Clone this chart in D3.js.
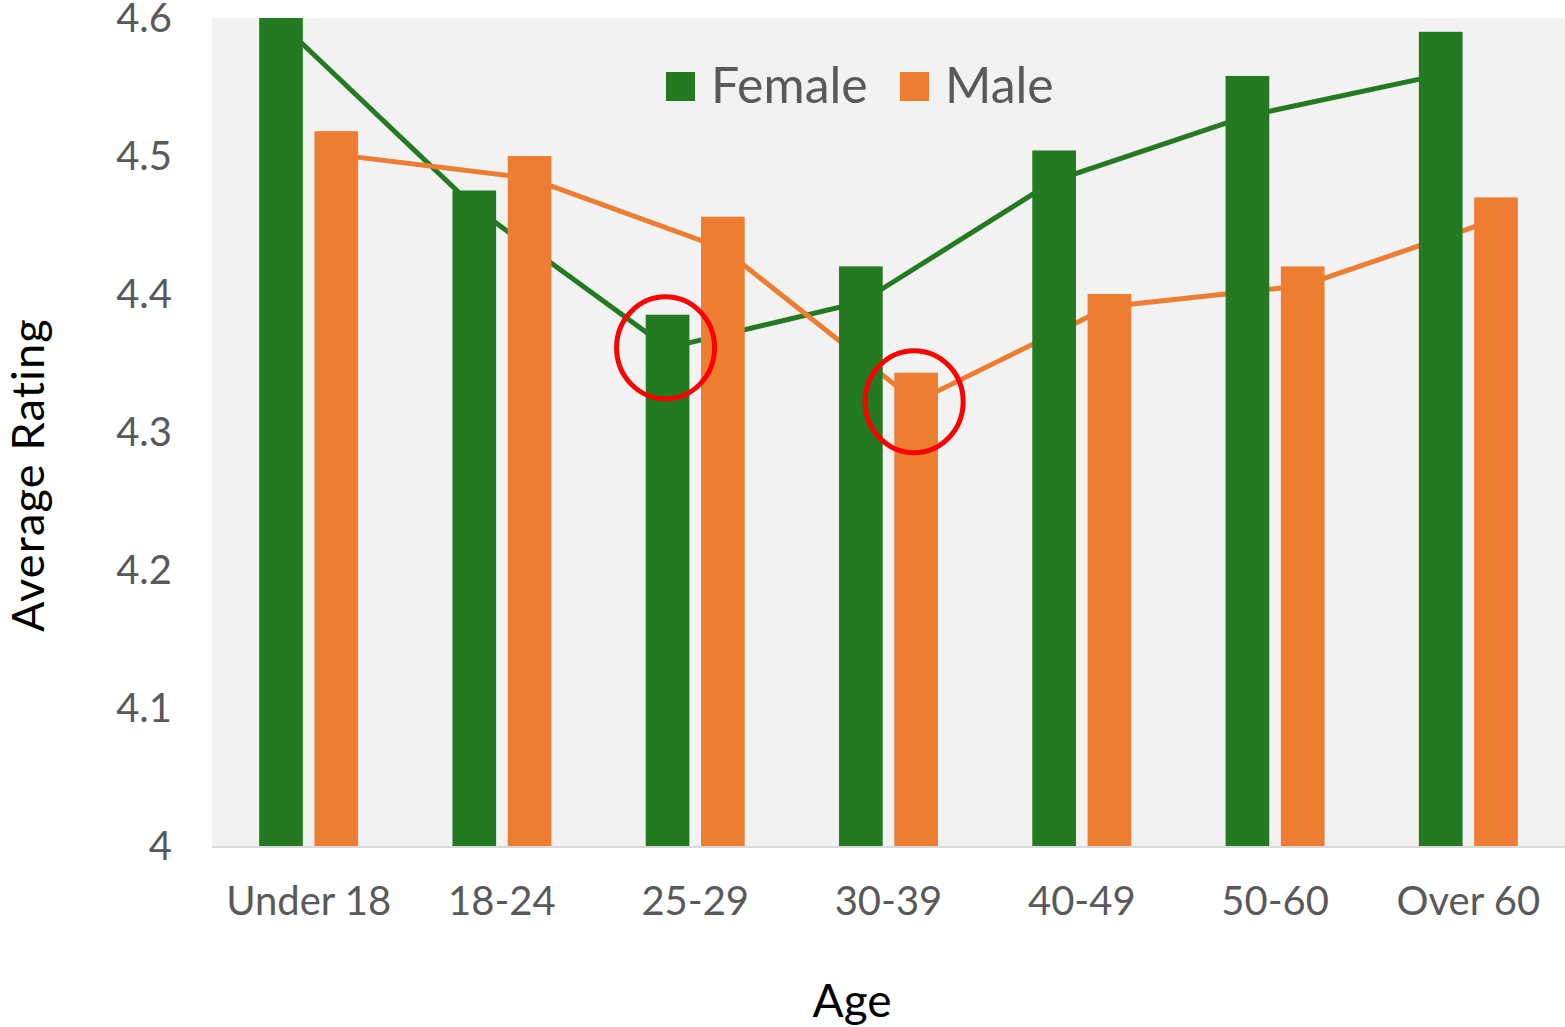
<!DOCTYPE html>
<html>
<head>
<meta charset="utf-8">
<script src="https://cdn.jsdelivr.net/npm/d3@7"></script>
<style>
  html, body { margin: 0; padding: 0; background: #ffffff; }
  svg { display: block; }
  text { font-family: Lato, "Open Sans", "Liberation Sans", sans-serif; }
</style>
</head>
<body>
<svg id="chart" width="1565" height="1027"></svg>
<script>
// ---- data ----
const categories = ["Under 18", "18-24", "25-29", "30-39", "40-49", "50-60", "Over 60"];
const seriesNames = ["Female", "Male"];
const femaleBars = [4.61, 4.475, 4.385, 4.420, 4.504, 4.558, 4.590];
const maleBars   = [4.518, 4.500, 4.456, 4.343, 4.400, 4.420, 4.470];
const femaleLine = [4.596, 4.463, 4.361, 4.394, 4.482, 4.529, 4.559];
const maleLine   = [4.501, 4.484, 4.433, 4.322, 4.391, 4.406, 4.454];
const yTicks = [4, 4.1, 4.2, 4.3, 4.4, 4.5, 4.6];
const highlights = [
  { series: "Female", category: "25-29" },
  { series: "Male", category: "30-39" }
];

// ---- layout ----
const svg = d3.select("#chart");
const plot = { left: 212, right: 1565, top: 18, bottom: 846 };
const colors = { Female: "#237a21", Male: "#ed7d31" };
const textGray = "#595959";

const x0 = d3.scaleBand().domain(categories)
  .range([plot.left, plot.right]).paddingInner(0.488).paddingOuter(0.244);
const x1 = d3.scaleBand().domain(seriesNames)
  .range([0, x0.bandwidth()]).paddingInner(0.21).paddingOuter(0);
const y = d3.scaleLinear().domain([4, 4.6]).range([plot.bottom, plot.top]);

const barData = { Female: femaleBars, Male: maleBars };
const lineData = { Female: femaleLine, Male: maleLine };
const cx = (s, c) => x0(c) + x1(s) + x1.bandwidth() / 2;

// clip
svg.append("defs").append("clipPath").attr("id", "plotClip")
  .append("rect").attr("x", plot.left).attr("y", plot.top)
  .attr("width", plot.right - plot.left).attr("height", plot.bottom - plot.top);

// plot background
svg.append("rect").attr("x", plot.left).attr("y", plot.top)
  .attr("width", plot.right - plot.left).attr("height", plot.bottom - plot.top)
  .attr("fill", "#f2f2f2");

const g = svg.append("g").attr("clip-path", "url(#plotClip)");

// lines (behind bars)
seriesNames.forEach(s => {
  const line = d3.line()
    .x((d, i) => cx(s, categories[i]))
    .y(d => y(d));
  g.append("path").datum(lineData[s])
    .attr("d", line).attr("fill", "none")
    .attr("stroke", colors[s]).attr("stroke-width", 5)
    .attr("stroke-linejoin", "miter");
});

// bars
seriesNames.forEach(s => {
  g.selectAll(null).data(barData[s]).enter().append("rect")
    .attr("x", (d, i) => x0(categories[i]) + x1(s))
    .attr("width", x1.bandwidth())
    .attr("y", d => y(d))
    .attr("height", d => y(4) - y(d))
    .attr("fill", colors[s]);
});

// x axis baseline
svg.append("line").attr("x1", plot.left).attr("x2", plot.right)
  .attr("y1", plot.bottom + 1).attr("y2", plot.bottom + 1)
  .attr("stroke", "#d9d9d9").attr("stroke-width", 2);

// highlight circles
svg.selectAll(null).data(highlights).enter().append("ellipse")
  .attr("cx", d => cx(d.series, d.category) - 2)
  .attr("cy", d => y(lineData[d.series][categories.indexOf(d.category)]))
  .attr("rx", 49).attr("ry", 51)
  .attr("fill", "none").attr("stroke", "#ff0000").attr("stroke-width", 5);

// y tick labels
svg.selectAll(null).data(yTicks).enter().append("text")
  .attr("x", 172).attr("y", d => y(d) + 14)
  .attr("text-anchor", "end").attr("font-size", 40).attr("fill", textGray)
  .text(d => d3.format("")(d));

// x tick labels
svg.selectAll(null).data(categories).enter().append("text")
  .attr("x", d => x0(d) + x0.bandwidth() / 2).attr("y", 915)
  .attr("text-anchor", "middle").attr("font-size", 40).attr("fill", textGray)
  .text(d => d);

// axis titles
svg.append("text").attr("x", 852).attr("y", 1017)
  .attr("text-anchor", "middle").attr("font-size", 46).attr("fill", "#000")
  .text("Age");
svg.append("text").attr("transform", "translate(44,475) rotate(-90)")
  .attr("text-anchor", "middle").attr("font-size", 45).attr("fill", "#000")
  .attr("letter-spacing", 1.2)
  .text("Average Rating");

// legend
const legendItems = [
  { name: "Female", sx: 666, tx: 711 },
  { name: "Male", sx: 900, tx: 945 }
];
const lg = svg.append("g");
lg.selectAll(null).data(legendItems).enter().append("rect")
  .attr("x", d => d.sx).attr("y", 72).attr("width", 29).attr("height", 29)
  .attr("fill", d => colors[d.name]);
lg.selectAll(null).data(legendItems).enter().append("text")
  .attr("x", d => d.tx).attr("y", 103).attr("font-size", 50).attr("fill", textGray)
  .text(d => d.name);
</script>
</body>
</html>
